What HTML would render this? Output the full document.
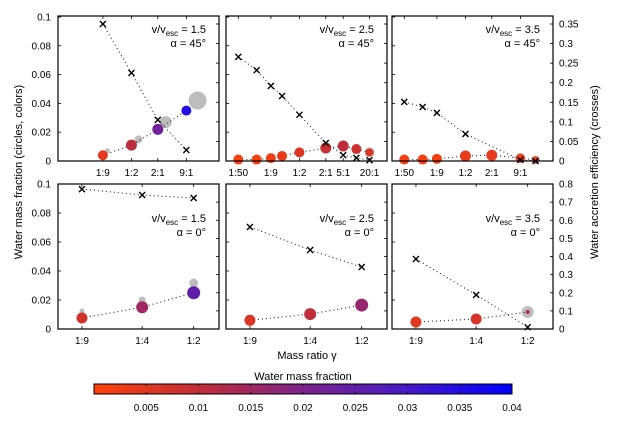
<!DOCTYPE html>
<html><head><meta charset="utf-8"><style>
body{margin:0;background:#fff;font-family:"Liberation Sans",sans-serif}
svg text{font-family:"Liberation Sans",sans-serif;fill:#000}
</style></head><body>
<svg id="c" width="625" height="421" xmlns="http://www.w3.org/2000/svg"></svg>
<script>
// ---- data ----
const topTickLabels=[["1:9","1:2","2:1","9:1"],["1:50","1:9","1:2","2:1","5:1","20:1"],["1:50","1:9","1:2","2:1","9:1"]];
const topTickLogs=[[-0.954,-0.301,0.301,0.954],[-1.699,-0.954,-0.301,0.301,0.699,1.301],[-1.699,-0.954,-0.301,0.301,0.954]];
const botTickLabels=["1:9","1:4","1:2"];
const botTickLogs=[-0.954,-0.602,-0.301];
const velocities=["1.5","2.5","3.5","1.5","2.5","3.5"];
const angles=["45°","45°","45°","0°","0°","0°"];
// circles: x (log mass ratio), water mass fraction, radius
const circX=[[-0.954,-0.301,0.301,0.954],[-1.699,-1.279,-0.954,-0.699,-0.301,0.301,0.699,1,1.301],[-1.699,-1.279,-0.954,-0.301,0.301,0.954,1.301],[-0.954,-0.602,-0.301],[-0.954,-0.602,-0.301],[-0.954,-0.602,-0.301]];
const circW=[[0.004,0.011,0.022,0.035],[0.001,0.001,0.002,0.0035,0.006,0.009,0.0104,0.0083,0.006],[0.001,0.001,0.0015,0.0035,0.004,0.002,0.0008],[0.0076,0.015,0.025],[0.006,0.0103,0.0165],[0.0048,0.0069,0.0117]];
const circR=[[5,5.5,5.5,5],[5,5,5,5,5,5.5,5.5,5,4],[5,5,5,5.5,5.5,4.5,3.5],[5.5,6,6.5],[5.5,6,6.5],[5.5,5.5,2]];
// gray circles
const grayX=[[-0.85,-0.14,0.48,1.21],[1.301],[0.954,1.301],[-0.954,-0.602,-0.301],[],[-0.301]];
const grayW=[[0.007,0.015,0.027,0.042],[0.006],[0.002,0.0008],[0.0124,0.02,0.0317],[],[0.0117]];
const grayR=[[2.5,4,6,9],[5],[5,4.5],[2.5,3.5,4.5],[],[6]];
// crosses: x (log mass ratio), water accretion efficiency
const crossX=[[-0.954,-0.301,0.301,0.954],[-1.699,-1.279,-0.954,-0.699,-0.301,0.301,0.699,1,1.301],[-1.699,-1.279,-0.954,-0.301,0.954,1.301],[-0.954,-0.602,-0.301],[-0.954,-0.602,-0.301],[-0.954,-0.602,-0.301]];
const crossE=[[0.35,0.225,0.105,0.028],[0.266,0.232,0.192,0.166,0.118,0.046,0.015,0.008,0.002],[0.151,0.138,0.123,0.069,0.003,0],[0.772,0.739,0.723],[0.563,0.436,0.342],[0.386,0.188,0.01]];
const leftTicks=[0,0.02,0.04,0.06,0.08,0.1];
const rightTicksTop=[0,0.05,0.1,0.15,0.2,0.25,0.3,0.35];
const rightTicksBot=[0,0.1,0.2,0.3,0.4,0.5,0.6,0.7,0.8];
const cbarTicks=[0.005,0.01,0.015,0.02,0.025,0.03,0.035,0.04];

const svg=document.getElementById('c');const NS="http://www.w3.org/2000/svg";
function el(t,a,p){const e=document.createElementNS(NS,t);for(const k in a)e.setAttribute(k,a[k]);(p||svg).appendChild(e);return e;}
function txt(s,a,p){const e=el('text',a,p);e.textContent=s;return e;}
const stops=[[0,255,65,10],[0.01,195,45,55],[0.02,125,35,140],[0.03,70,25,200],[0.04,0,0,255]];
function cmap(v){v=Math.max(0,Math.min(0.04,v));for(let i=0;i<4;i++){const a=stops[i],b=stops[i+1];if(v<=b[0]){const t=(v-a[0])/(b[0]-a[0]);return `rgb(${Math.round(a[1]+t*(b[1]-a[1]))},${Math.round(a[2]+t*(b[2]-a[2]))},${Math.round(a[3]+t*(b[3]-a[3]))})`;}}return 'rgb(0,0,255)';}

const panX=[58,226,392],pw=161;
for(let p=0;p<6;p++){
  const row=p<3?0:1,col=p%3;
  const x0=panX[col],y0=row?184:16,y1=row?329:161;
  const g=el('g',{});
  
  
  const xd=row?[-1.094,-0.153]:[-1.98,1.70];
  const xs=v=>x0+(v-xd[0])/(xd[1]-xd[0])*pw;
  const yl=v=>y1-v/0.1*(y1-(row?184:17));
  const ymaxR=row?0.8:0.35, yTopR=row?184:24;
  const yr=v=>y1-v/ymaxR*(y1-yTopR);
  leftTicks.forEach(t=>el('line',{x1:x0,x2:x0+3,y1:yl(t),y2:yl(t),stroke:'#000','stroke-width':0.8},g));
  (row?rightTicksBot:rightTicksTop).forEach(t=>el('line',{x1:x0+pw-3,x2:x0+pw,y1:yr(t),y2:yr(t),stroke:'#000','stroke-width':0.8},g));
  const tl=row?botTickLogs:topTickLogs[col],tlab=row?botTickLabels:topTickLabels[col];
  tl.forEach((t,i)=>{const x=xs(t);
    el('line',{x1:x,x2:x,y1:y1,y2:y1-3,stroke:'#000','stroke-width':0.8},g);
    el('line',{x1:x,x2:x,y1:y0,y2:y0+3,stroke:'#000','stroke-width':0.8},g);
    const lt=txt(tlab[i],{x:x,y:y1+15,'font-size':10,'text-anchor':'middle'},g);
    });
  if(col==0){leftTicks.forEach(t=>{const lt=txt(String(t),{x:51,y:yl(t)+3.5,'font-size':10,'text-anchor':'end'},g);});}
  if(col==2){(row?rightTicksBot:rightTicksTop).forEach(t=>{const lt=txt(String(t),{x:559,y:yr(t)+3.5,'font-size':10},g);});}
  grayX[p].forEach((x,i)=>{const c=el('circle',{cx:xs(x),cy:yl(grayW[p][i]),r:grayR[p][i],fill:'#bdbdbd'},g);});
  el('polyline',{points:circX[p].map((x,i)=>xs(x)+','+yl(circW[p][i])).join(' '),fill:'none',stroke:'#222','stroke-width':1.1,'stroke-dasharray':'1 3'},g);
  circX[p].forEach((x,i)=>{const c=el('circle',{cx:xs(x),cy:yl(circW[p][i]),r:circR[p][i],fill:cmap(circW[p][i])},g);});
  el('polyline',{points:crossX[p].map((x,i)=>xs(x)+','+yr(crossE[p][i])).join(' '),fill:'none',stroke:'#222','stroke-width':1.1,'stroke-dasharray':'1 3'},g);
  crossX[p].forEach((x,i)=>{const cx=xs(x),cy=yr(crossE[p][i]);
    const c=el('path',{d:`M${cx-3},${cy-3}L${cx+3},${cy+3}M${cx-3},${cy+3}L${cx+3},${cy-3}`,stroke:'#000','stroke-width':1.4},g);
    });
  el('rect',{x:x0,y:y0,width:pw,height:y1-y0,fill:'none',stroke:'#000','stroke-width':1.2},g);
  const ly=row?222:33;
  const t1=el('text',{x:x0+pw-13,y:ly,'font-size':11,'text-anchor':'end'},g);
  t1.innerHTML='v/v<tspan font-size="8" dy="3">esc</tspan><tspan dy="-3"> = '+velocities[p]+'</tspan>';
  
  const t2=txt('α = '+angles[p],{x:x0+pw-13,y:ly+14,'font-size':11,'text-anchor':'end'},g);
  
}
let t;
t=txt('Water mass fraction (circles, colors)',{x:0,y:0,'font-size':11,'text-anchor':'middle',transform:'translate(22,172) rotate(-90)'});

t=txt('Water accretion efficiency (crosses)',{x:0,y:0,'font-size':11,'text-anchor':'middle',transform:'translate(598,172) rotate(-90)'});

t=txt('Mass ratio γ',{x:307,y:359,'font-size':11,'text-anchor':'middle'});

t=txt('Water mass fraction',{x:303,y:380,'font-size':11,'text-anchor':'middle'});

const defs=el('defs',{});const lg=el('linearGradient',{id:'cg',x1:0,x2:1,y1:0,y2:0},defs);
stops.forEach(s=>el('stop',{offset:s[0]/0.04,'stop-color':cmap(s[0])},lg));
const cb=el('rect',{x:94,y:384,width:418,height:10,fill:'url(#cg)',stroke:'#000','stroke-width':1});

const cbx=v=>94+v/0.04*418;
cbarTicks.forEach(v=>{el('line',{x1:cbx(v),x2:cbx(v),y1:384,y2:386,stroke:'#000','stroke-width':0.8});el('line',{x1:cbx(v),x2:cbx(v),y1:392,y2:394,stroke:'#000','stroke-width':0.8});
  const l=txt(String(v),{x:cbx(v),y:411,'font-size':10,'text-anchor':'middle'});});
</script>
</body></html>
